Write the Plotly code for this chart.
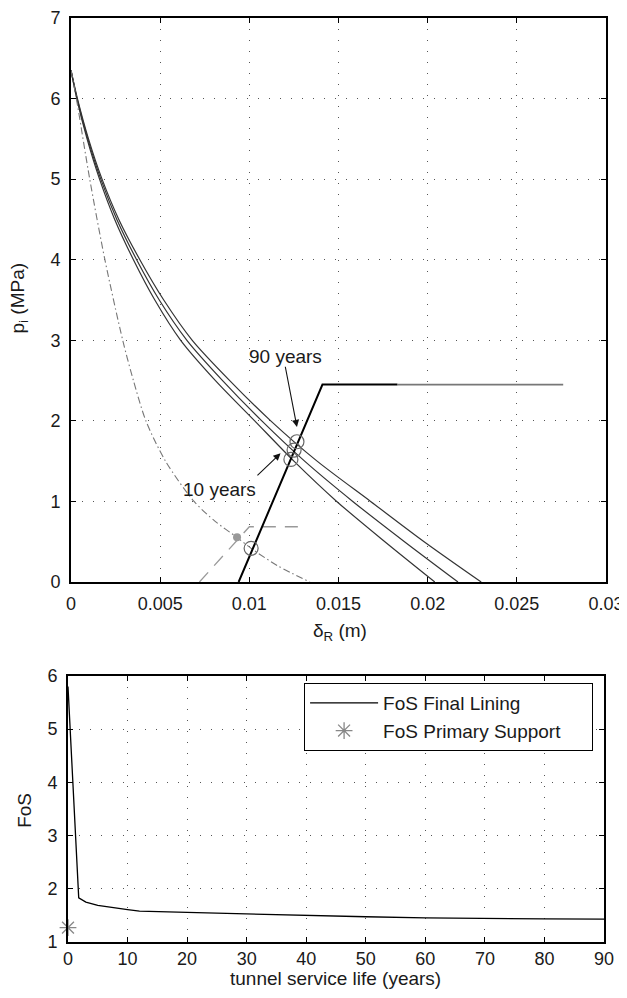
import plotly.graph_objects as go

# ---------------- data: top panel (convergence-confinement) ----------------
p_levels = [6.35, 6.0, 5.5, 5.0, 4.5, 4.0, 3.5, 3.0, 2.5, 2.0, 1.5, 1.0, 0.5, 0.0]
grc_10y = [0.0, 0.00032, 0.00090, 0.00160, 0.00245, 0.00350, 0.00470, 0.00615, 0.00810, 0.01030, 0.01250, 0.01490, 0.01760, 0.02040]
grc_50y = [0.0, 0.00034, 0.00094, 0.00167, 0.00257, 0.00368, 0.00495, 0.00650, 0.00850, 0.01070, 0.01310, 0.01580, 0.01870, 0.02170]
grc_90y = [0.0, 0.00036, 0.00098, 0.00174, 0.00268, 0.00386, 0.00520, 0.00680, 0.00890, 0.01120, 0.01380, 0.01680, 0.01980, 0.02300]

grc_short_p = [6.35, 6.0, 5.0, 4.0, 3.0, 2.5, 2.0, 1.5, 1.0, 0.75, 0.555, 0.418, 0.2, 0.0]
grc_short_x = [0.0, 0.00030, 0.00105, 0.00190, 0.00290, 0.00350, 0.00420, 0.00530, 0.00690, 0.00810, 0.00930, 0.01010, 0.01160, 0.01340]

lining_x = [0.0094, 0.0141, 0.0183]
lining_p = [0.0, 2.45, 2.45]
lining_ext_x = [0.0183, 0.0276]
lining_ext_p = [2.45, 2.45]

primary_x = [0.0072, 0.0100, 0.0130]
primary_p = [0.0, 0.686, 0.686]
primary_pt_x = [0.00931]
primary_pt_p = [0.555]

eq_x = [0.0101, 0.01233, 0.01251, 0.01267]
eq_p = [0.418, 1.522, 1.638, 1.741]

top_xticks = [0, 0.005, 0.01, 0.015, 0.02, 0.025, 0.03]
top_xlabels = ["0", "0.005", "0.01", "0.015", "0.02", "0.025", "0.03"]
top_yticks = [0, 1, 2, 3, 4, 5, 6, 7]

# ---------------- data: bottom panel (FoS vs service life) ----------------
years = [0, 1.8, 3, 5, 10, 12, 20, 30, 40, 50, 60, 70, 80, 90]
fos_final = [5.8, 1.83, 1.75, 1.69, 1.61, 1.58, 1.555, 1.525, 1.50, 1.475, 1.455, 1.44, 1.435, 1.43]
fos_primary_x = [0]
fos_primary_y = [1.27]

bot_xticks = [0, 10, 20, 30, 40, 50, 60, 70, 80, 90]
bot_yticks = [1, 2, 3, 4, 5, 6]

FONT = "Liberation Sans, Arial, Helvetica, sans-serif"
TXT = "#1a1a1a"
TICK_SIZE = 18
LABEL_SIZE = 19
PAD = "&nbsp;" * 5

fig = go.Figure()

# top panel traces
for xs in (grc_10y, grc_50y, grc_90y):
    fig.add_trace(go.Scatter(x=xs, y=p_levels, mode="lines",
                             line=dict(color="#333333", width=1.2, shape="spline", smoothing=0.8),
                             xaxis="x", yaxis="y", showlegend=False, hoverinfo="skip"))
fig.add_trace(go.Scatter(x=grc_short_x, y=grc_short_p, mode="lines",
                         line=dict(color="#777777", width=1.1, dash="7px,3px,1.5px,3px", shape="spline", smoothing=0.8),
                         xaxis="x", yaxis="y", showlegend=False))
fig.add_trace(go.Scatter(x=primary_x, y=primary_p, mode="lines",
                         line=dict(color="#999999", width=1.3, dash="13px,9px"),
                         xaxis="x", yaxis="y", showlegend=False))
fig.add_trace(go.Scatter(x=lining_ext_x, y=lining_ext_p, mode="lines",
                         line=dict(color="#777777", width=1.6),
                         xaxis="x", yaxis="y", showlegend=False))
fig.add_trace(go.Scatter(x=lining_x, y=lining_p, mode="lines",
                         line=dict(color="#000000", width=2),
                         xaxis="x", yaxis="y", showlegend=False))
fig.add_trace(go.Scatter(x=primary_pt_x, y=primary_pt_p, mode="markers",
                         marker=dict(color="#999999", size=8),
                         xaxis="x", yaxis="y", showlegend=False))
fig.add_trace(go.Scatter(x=eq_x, y=eq_p, mode="markers",
                         marker=dict(symbol="circle-open", color="#666666", size=14, line=dict(width=1.2)),
                         xaxis="x", yaxis="y", showlegend=False))

# bottom panel traces
fig.add_trace(go.Scatter(x=years, y=fos_final, mode="lines", name="FoS Final Lining" + PAD,
                         line=dict(color="#000000", width=1.3), xaxis="x2", yaxis="y2"))
fig.add_trace(go.Scatter(x=fos_primary_x, y=fos_primary_y, mode="markers", name="FoS Primary Support" + PAD,
                         marker=dict(symbol="asterisk-open", color="#888888", size=14,
                                     line=dict(width=1.3, color="#888888")),
                         xaxis="x2", yaxis="y2", cliponaxis=False))

axis_common = dict(showline=True, linecolor="#000000", linewidth=1.6, mirror="ticks",
                   ticks="inside", ticklen=5, tickcolor="#000000", tickwidth=1,
                   showgrid=True, gridcolor="#555555", gridwidth=1, griddash="1px,10px",
                   zeroline=False, automargin=False,
                   tickfont=dict(family=FONT, size=TICK_SIZE, color=TXT))

# the page body keeps its default 8px margin, so the figure is sized to fit the window
fig.update_layout(
    width=619, height=982,
    margin=dict(l=60, r=21, t=10, b=48, autoexpand=False),
    paper_bgcolor="white", plot_bgcolor="white",
    xaxis=dict(domain=[0.0056, 1.0], range=[0, 0.03], tickvals=top_xticks, ticktext=top_xlabels,
               anchor="y", ticklabelstandoff=5, **axis_common),
    yaxis=dict(domain=[0.3896, 1.0], range=[0, 7], tickvals=top_yticks, anchor="x",
               ticklabelstandoff=5, **axis_common),
    xaxis2=dict(domain=[0.0, 0.9963], range=[0, 90], tickvals=bot_xticks, anchor="y2",
                ticklabelstandoff=0, **axis_common),
    yaxis2=dict(domain=[0.0, 0.2879], range=[1, 6], tickvals=bot_yticks, anchor="x2",
                ticklabelstandoff=5, **axis_common),
    showlegend=True,
    legend=dict(x=0.976, xanchor="right", y=0.2803, yanchor="top",
                bgcolor="white", bordercolor="#000000", borderwidth=1,
                font=dict(family=FONT, size=LABEL_SIZE, color=TXT), itemwidth=68,
                tracegroupgap=0),
    font=dict(family=FONT, color=TXT),
)

ann = []
lbl = dict(family=FONT, size=LABEL_SIZE, color=TXT)
# axis titles
ann.append(dict(text="p<sub>i</sub> (MPa)", xref="paper", yref="paper", x=-0.092, y=0.697,
                xanchor="center", yanchor="middle", textangle=-90, showarrow=False, font=lbl))
ann.append(dict(text="δ<sub>R</sub> (m)", xref="paper", yref="paper", x=0.505, y=0.336,
                xanchor="center", yanchor="middle", showarrow=False, font=lbl))
ann.append(dict(text="FoS", xref="paper", yref="paper", x=-0.080, y=0.143,
                xanchor="center", yanchor="middle", textangle=-90, showarrow=False, font=lbl))
ann.append(dict(text="tunnel service life (years)", xref="paper", yref="paper", x=0.497, y=-0.0519,
                xanchor="center", yanchor="bottom", borderpad=0, showarrow=False, font=lbl))
# in-plot labels
ann.append(dict(text="90 years", xref="x", yref="y", x=0.0120, y=2.805, showarrow=False,
                xanchor="center", yanchor="middle", font=lbl))
ann.append(dict(text="10 years", xref="x", yref="y", x=0.0083, y=1.15, showarrow=False,
                xanchor="center", yanchor="middle", font=lbl))
# arrows
ann.append(dict(text="", xref="x", yref="y", x=0.01267, y=1.924, axref="x", ayref="y", ax=0.0120, ay=2.69,
                showarrow=True, arrowhead=2, arrowsize=1.3, arrowwidth=1.1, arrowcolor="#111111"))
ann.append(dict(text="", xref="x", yref="y", x=0.01175, y=1.597, axref="x", ayref="y", ax=0.01037, ay=1.307,
                showarrow=True, arrowhead=2, arrowsize=1.3, arrowwidth=1.1, arrowcolor="#111111"))
fig.update_layout(annotations=ann)

fig.write_html("out.html")
